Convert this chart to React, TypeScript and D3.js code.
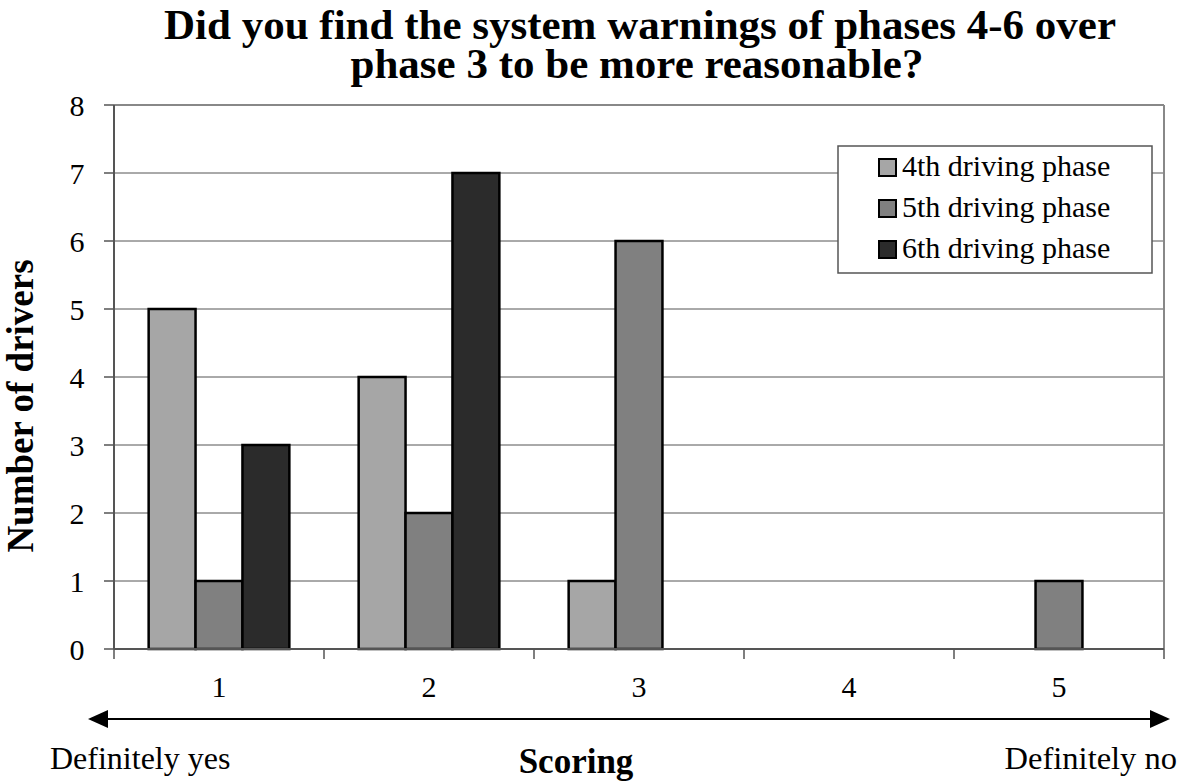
import React from "react";
import * as d3 from "d3";

const categories = ["1", "2", "3", "4", "5"];
const seriesNames = ["4th driving phase", "5th driving phase", "6th driving phase"];
const phase4 = [5, 4, 1, 0, 0];
const phase5 = [1, 2, 6, 0, 1];
const phase6 = [3, 7, 0, 0, 0];
const yTicks = [0, 1, 2, 3, 4, 5, 6, 7, 8];
const colors = ["#a6a6a6", "#808080", "#2b2b2b"];

const W = 1181;
const H = 784;
const M = { left: 114, right: 1164, top: 105, bottom: 649 };
const FONT = "'Liberation Serif', 'Times New Roman', serif";

export default function App() {
  const series = [phase4, phase5, phase6];
  const x = d3.scaleBand<string>().domain(categories).range([M.left, M.right]).padding(0);
  const y = d3.scaleLinear().domain([0, 8]).range([M.bottom, M.top]);
  const bw = x.bandwidth();
  const inner = d3
    .scaleBand<number>()
    .domain([0, 1, 2])
    .range([bw * 0.165, bw * 0.835])
    .padding(0);

  const boundaries = categories.map((c) => x(c)!).concat([M.right]);

  return (
    <svg
      width={W}
      height={H}
      style={{ position: "absolute", left: 0, top: 0, background: "#fff" }}
      fontFamily={FONT}
    >
      <rect x={0} y={0} width={W} height={H} fill="#fff" />
      {/* title */}
      <text x={640} y={39} textAnchor="middle" fontSize={43} fontWeight="bold">
        Did you find the system warnings of phases 4-6 over
      </text>
      <text x={637} y={78} textAnchor="middle" fontSize={43} fontWeight="bold">
        phase 3 to be more reasonable?
      </text>

      {/* gridlines */}
      {yTicks.map((t) => (
        <line
          key={"g" + t}
          x1={M.left}
          x2={M.right}
          y1={y(t)}
          y2={y(t)}
          stroke={t === 8 ? "#888" : "#555"}
          strokeWidth={t === 8 ? 2 : 1}
        />
      ))}
      {/* right border */}
      <line x1={M.right} x2={M.right} y1={M.top} y2={M.bottom} stroke="#888" strokeWidth={2} />

      {/* bars */}
      {categories.map((c, ci) =>
        series.map((s, si) =>
          s[ci] > 0 ? (
            <rect
              key={c + "-" + si}
              x={x(c)! + inner(si)!}
              y={y(s[ci])}
              width={inner.bandwidth()}
              height={y(0) - y(s[ci])}
              fill={colors[si]}
              stroke="#000"
              strokeWidth={2.5}
            />
          ) : null
        )
      )}

      {/* axes */}
      <line x1={M.left} x2={M.left} y1={M.top} y2={M.bottom} stroke="#555" strokeWidth={2} />
      <line x1={M.left} x2={M.right} y1={M.bottom} y2={M.bottom} stroke="#555" strokeWidth={2} />
      {yTicks.map((t) => (
        <g key={"yt" + t}>
          <line x1={M.left - 10} x2={M.left} y1={y(t)} y2={y(t)} stroke="#555" strokeWidth={1.5} />
          <text x={77} y={y(t) + 11} textAnchor="middle" fontSize={30}>
            {t}
          </text>
        </g>
      ))}
      {boundaries.map((b, i) => (
        <line key={"xt" + i} x1={b} x2={b} y1={M.bottom} y2={M.bottom + 10} stroke="#555" strokeWidth={1.5} />
      ))}
      {categories.map((c) => (
        <text key={"xl" + c} x={x(c)! + bw / 2} y={697} textAnchor="middle" fontSize={30}>
          {c}
        </text>
      ))}

      {/* y label */}
      <text
        transform={`translate(33, 406) rotate(-90)`}
        textAnchor="middle"
        fontSize={37}
        fontWeight="bold"
      >
        Number of drivers
      </text>

      {/* arrow */}
      <line x1={100} x2={1158} y1={719} y2={719} stroke="#000" strokeWidth={2} />
      <path d="M88,719 L108,710 L108,728 Z" fill="#000" />
      <path d="M1170,719 L1150,710 L1150,728 Z" fill="#000" />

      <text x={50} y={769} fontSize={32}>
        Definitely yes
      </text>
      <text x={1177} y={769} textAnchor="end" fontSize={32.5}>
        Definitely no
      </text>
      <text x={576} y={773} textAnchor="middle" fontSize={35} fontWeight="bold">
        Scoring
      </text>

      {/* legend */}
      <rect x={838} y={146} width={314} height={127} fill="#fff" stroke="#555" strokeWidth={1.5} />
      {seriesNames.map((n, i) => (
        <g key={"lg" + i}>
          <rect x={879} y={159 + i * 41} width={17} height={17} fill={colors[i]} stroke="#000" strokeWidth={2} />
          <text x={902} y={176 + i * 41} fontSize={30}>
            {n}
          </text>
        </g>
      ))}
    </svg>
  );
}
